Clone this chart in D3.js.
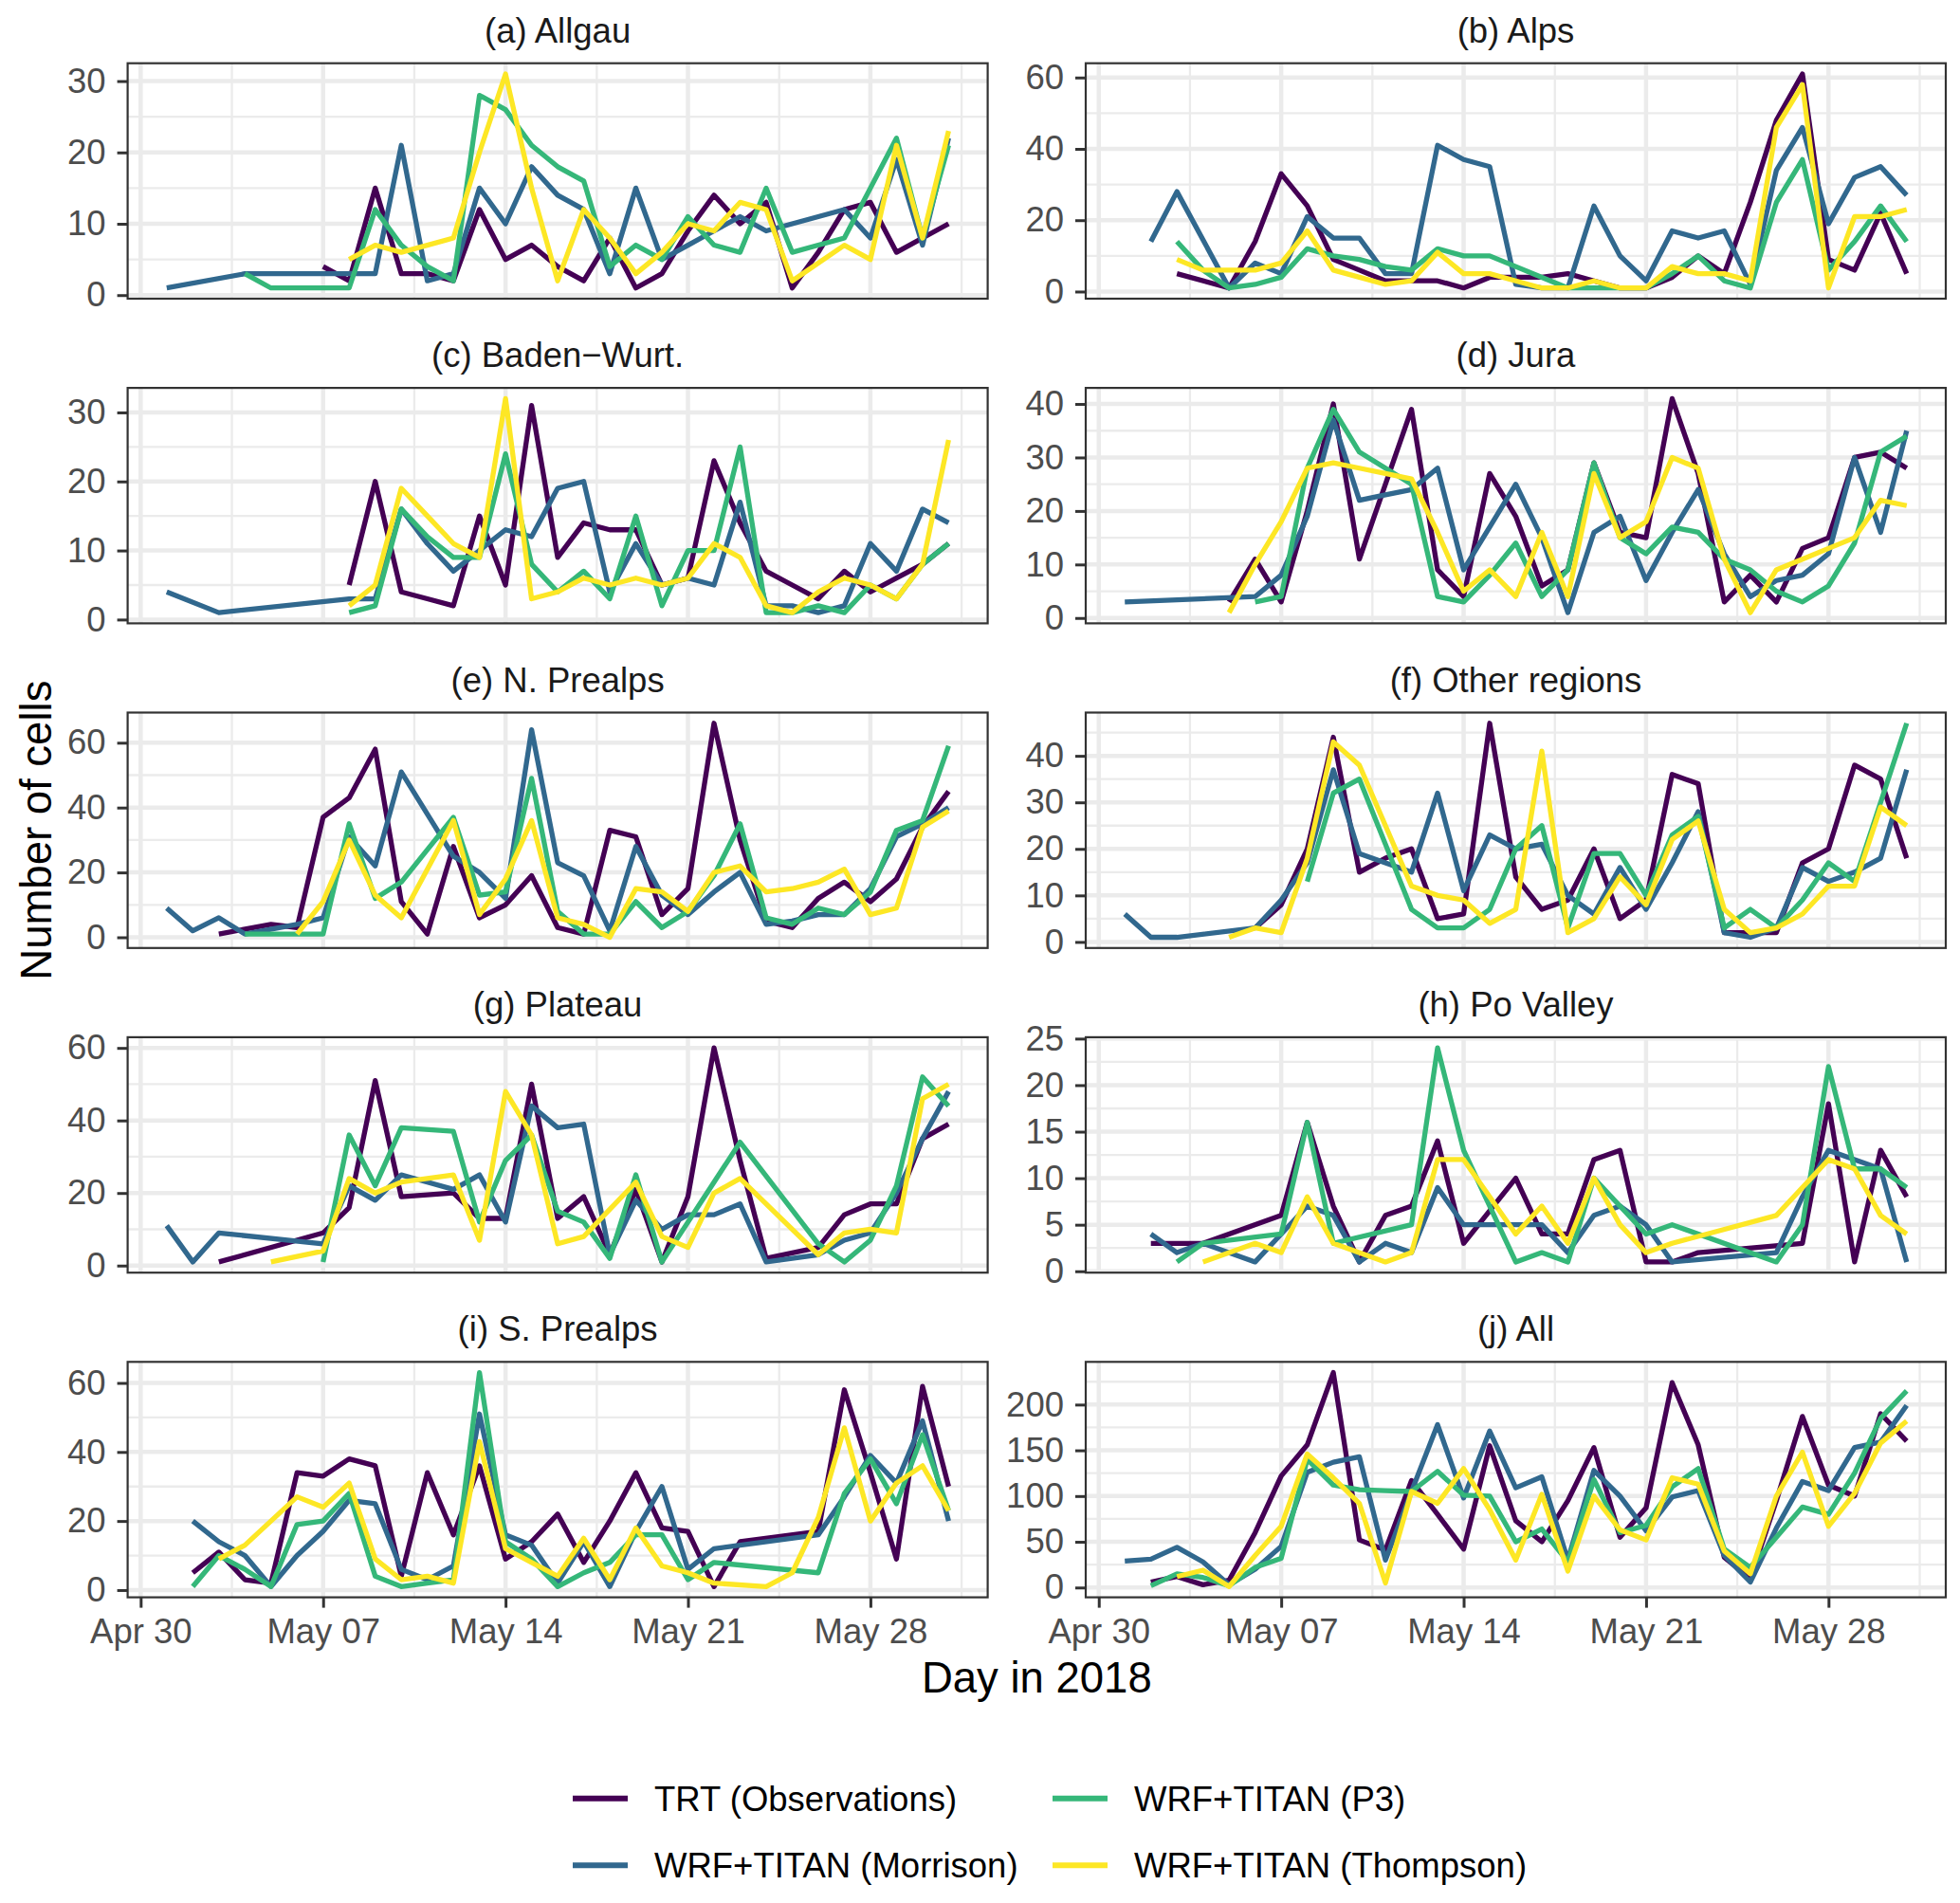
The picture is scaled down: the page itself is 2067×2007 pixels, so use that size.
<!DOCTYPE html>
<html>
<head>
<meta charset="UTF-8" />
<title>Number of cells per day, May 2018</title>
<script src="https://d3js.org/d3.v7.min.js"></script>
<style>
  body { margin: 0; background: #fff; }
  svg { display: block; font-family: "Liberation Sans", Arial, Helvetica, sans-serif; }
</style>
</head>
<body>
<svg width="2067" height="2007"></svg>
<script>
// 1. data -------------------------------------------------------------
// one value per day, May 1 .. May 31 2018 (null = no value that day)
const days = d3.range(1, 32).map(d => new Date(Date.UTC(2018, 4, d)))

const seriesNames = ["TRT (Observations)", "WRF+TITAN (Morrison)", "WRF+TITAN (P3)", "WRF+TITAN (Thompson)"]
const seriesColors = ["#440154", "#31688E", "#35B779", "#FDE725"]

const regionTitles = ["(a) Allgau", "(b) Alps", "(c) Baden\u2212Wurt.", "(d) Jura", "(e) N. Prealps",
  "(f) Other regions", "(g) Plateau", "(h) Po Valley", "(i) S. Prealps", "(j) All"]

const xTickDates = [new Date(Date.UTC(2018, 3, 30)), new Date(Date.UTC(2018, 4, 7)),
  new Date(Date.UTC(2018, 4, 14)), new Date(Date.UTC(2018, 4, 21)), new Date(Date.UTC(2018, 4, 28))]
const xTickLabels = ["Apr 30", "May 07", "May 14", "May 21", "May 28"]

const yTicks = [
  [0, 10, 20, 30], [0, 20, 40, 60], [0, 10, 20, 30], [0, 10, 20, 30, 40], [0, 20, 40, 60],
  [0, 10, 20, 30, 40], [0, 20, 40, 60], [0, 5, 10, 15, 20, 25], [0, 20, 40, 60], [0, 50, 100, 150, 200]
]

const _ = null
// (a) Allgau
const a_trt = [_,_,_,_,_,_,4,2,15,3,3,2,12,5,7,4,2,8,1,3,9,14,10,13,1,6,12,13,6,8,10]
const a_mor = [1,_,_,3,_,_,_,_,3,21,2,3,15,10,18,14,12,3,15,5,7,9,11,9,10,_,12,8,19,7,22]
const a_p3  = [_,_,_,3,1,_,_,1,12,7,4,2,28,26,21,18,16,4,7,5,11,7,6,15,6,7,8,15,22,8,21]
const a_tho = [_,_,_,_,_,_,_,5,7,6,_,8,20,31,15,2,12,8,3,6,10,9,13,12,2,_,7,5,21,8,23]
// (b) Alps
const b_trt = [_,_,5,_,1,14,33,24,9,6,3,3,3,1,4,4,4,5,3,1,1,4,10,5,25,48,61,9,6,22,5]
const b_mor = [_,14,28,_,1,8,5,21,15,15,5,5,41,37,35,2,1,1,24,10,3,17,15,17,2,34,46,19,32,35,27]
const b_p3  = [_,_,14,6,1,2,4,12,10,9,7,6,12,10,10,7,4,1,1,1,1,5,10,3,1,25,37,6,14,24,14]
const b_tho = [_,_,9,6,6,6,8,17,6,4,2,3,11,5,5,3,1,1,3,1,1,7,5,5,3,46,58,1,21,21,23]
// (c) Baden-Wurt.
const c_trt = [_,_,_,_,_,_,_,5,20,4,3,2,15,5,31,9,14,13,13,5,6,23,14,7,5,3,7,4,6,8,11]
const c_mor = [4,_,1,_,_,_,_,3,3,16,11,7,10,13,12,19,20,4,11,5,6,5,17,2,2,1,2,11,7,16,14]
const c_p3  = [_,_,_,_,_,_,_,1,2,16,12,9,9,24,8,4,7,3,15,2,10,10,25,1,1,2,1,5,3,8,11]
const c_tho = [_,_,_,_,_,_,_,2,5,19,15,11,9,32,3,4,6,5,6,5,6,11,9,2,1,4,6,5,3,8,26]
// (d) Jura
const d_trt = [_,_,_,_,3,11,3,20,40,11,25,39,9,4,27,19,6,9,29,16,15,41,27,3,8,3,13,15,30,31,28]
const d_mor = [3,_,_,_,_,4,8,19,37,22,23,24,28,9,17,25,15,1,16,19,7,16,24,12,4,7,8,12,30,16,35]
const d_p3  = [_,_,_,_,_,3,4,28,39,31,28,25,4,3,8,14,4,9,29,15,12,17,16,11,9,5,3,6,14,31,34]
const d_tho = [_,_,_,_,1,10,18,28,29,28,27,26,16,5,9,4,16,4,27,15,18,30,28,11,1,9,11,13,15,22,21]
// (e) N. Prealps
const e_trt = [_,_,1,_,4,3,37,43,58,11,1,28,6,10,19,3,1,33,31,7,15,66,30,5,3,12,17,11,18,34,45]
const e_mor = [9,2,6,1,_,4,6,31,22,51,38,25,20,12,64,23,19,2,28,13,7,14,20,4,5,7,7,15,31,35,40]
const e_p3  = [_,_,_,1,_,_,1,35,12,17,27,37,13,14,49,8,1,1,11,3,8,19,35,6,4,9,7,14,33,36,59]
const e_tho = [_,_,_,_,_,1,11,30,13,6,21,36,7,18,36,6,4,0,15,14,8,20,22,14,15,17,21,7,9,34,39]
// (f) Other regions
const f_trt = [_,_,_,_,_,3,8,20,44,15,18,20,5,6,47,14,7,9,20,5,9,36,34,2,2,2,17,20,38,35,18]
const f_mor = [6,1,1,_,_,3,9,17,37,19,17,15,32,11,23,20,21,10,6,16,7,17,28,2,1,3,16,13,15,18,37]
const f_p3  = [_,_,_,_,_,_,_,13,32,35,21,7,3,3,7,20,25,3,19,19,10,23,27,3,7,3,9,17,13,30,47]
const f_tho = [_,_,_,_,1,3,2,18,43,38,25,12,10,9,4,7,41,2,5,14,8,22,26,7,2,3,6,12,12,29,25]
// (g) Plateau
const g_trt = [_,_,1,_,_,_,9,16,51,19,_,20,13,13,50,13,19,3,21,1,19,60,29,2,_,5,14,17,17,35,39]
const g_mor = [11,1,9,_,_,_,6,22,18,25,23,21,25,12,44,38,39,3,18,10,14,14,17,1,_,3,7,9,20,35,48]
const g_p3  = [_,_,_,_,_,_,1,36,22,38,_,37,12,29,36,15,12,2,25,1,12,23,34,_,_,6,1,7,22,52,44]
const g_tho = [_,_,_,_,1,_,4,24,20,23,_,25,7,48,36,6,8,_,23,8,5,20,24,_,_,3,9,10,9,46,50]
// (h) Po Valley
const h_trt = [_,3,_,3,_,_,6,16,7,1,6,7,14,3,_,10,4,4,12,13,1,1,2,_,_,_,3,18,1,13,8]
const h_mor = [_,4,2,3,_,1,4,7,6,1,3,2,9,5,5,_,5,2,6,7,5,1,_,_,_,2,8,13,_,11,1]
const h_p3  = [_,_,1,3,_,_,4,16,3,_,_,5,24,13,_,1,2,1,10,7,4,5,_,_,_,1,5,22,11,11,9]
const h_tho = [_,_,_,1,_,3,2,8,3,_,1,2,12,12,_,4,7,3,10,5,2,3,_,_,_,6,_,12,11,6,4]
// (i) S. Prealps
const i_trt = [_,5,11,3,2,34,33,38,36,4,34,16,36,9,14,22,8,20,34,18,17,1,14,_,_,17,58,34,9,59,30]
const i_mor = [_,20,14,10,1,10,17,26,25,6,3,7,51,16,13,2,14,1,17,30,6,12,13,_,_,16,27,39,31,49,20]
const i_p3  = [_,1,10,6,1,19,20,28,4,1,2,3,63,14,9,1,5,8,16,16,3,8,_,_,_,5,28,38,25,45,23]
const i_tho = [_,_,9,13,20,27,24,31,9,3,4,2,43,12,8,4,15,3,18,7,5,2,_,1,5,21,47,20,31,36,23]
// (j) All
const j_trt = [_,6,12,3,8,60,122,156,235,52,41,117,80,42,155,73,50,95,153,55,87,224,156,33,10,95,187,112,100,190,160]
const j_mor = [29,31,44,28,3,20,45,126,137,143,30,105,178,98,171,109,121,30,128,100,62,99,106,35,6,65,116,106,153,159,199]
const j_p3  = [_,2,15,11,2,22,32,140,112,107,106,105,127,101,100,50,64,28,118,60,68,110,130,42,22,55,88,80,125,185,215]
const j_tho = [_,_,12,19,1,35,67,146,120,92,5,105,92,130,85,30,102,18,100,63,52,120,113,40,15,100,148,67,103,158,182]

const panelSeries = [
  [a_trt, a_mor, a_p3, a_tho], [b_trt, b_mor, b_p3, b_tho], [c_trt, c_mor, c_p3, c_tho],
  [d_trt, d_mor, d_p3, d_tho], [e_trt, e_mor, e_p3, e_tho], [f_trt, f_mor, f_p3, f_tho],
  [g_trt, g_mor, g_p3, g_tho], [h_trt, h_mor, h_p3, h_tho], [i_trt, i_mor, i_p3, i_tho],
  [j_trt, j_mor, j_p3, j_tho]
]

// 2. layout -----------------------------------------------------------
const svg = d3.select("svg")
svg.append("rect").attr("width", 2067).attr("height", 2007).attr("fill", "#fff")

const colX = [134.6, 1145]
const top0 = 66.7, rowStep = 342.4
const pw = 907, ph = 248.3
const dayMs = 864e5
const tickFont = 36.5, titleFont = 45.5

const x = d3.scaleUtc()
  .domain([+days[0] - 1.5 * dayMs, +days[days.length - 1] + 1.5 * dayMs])
  .range([0, pw])

// minor breaks half way between the weekly breaks
const xMinor = []
xTickDates.forEach(t => {
  xMinor.push(+t - 3.5 * dayMs, +t + 3.5 * dayMs)
})
const xMinorIn = Array.from(new Set(xMinor)).filter(t => t >= x.domain()[0] && t <= x.domain()[1])

const line = d3.line()
  .x(d => x(d.date))
  .y(d => d.y)

// 3. panels -----------------------------------------------------------
panelSeries.forEach((series, p) => {
  const col = p % 2, row = Math.floor(p / 2)
  const g = svg.append("g")
    .attr("transform", "translate(" + colX[col] + "," + (top0 + row * rowStep) + ")")

  const allVals = series.flat().filter(v => v != null)
  const [lo, hi] = d3.extent(allVals)
  const pad = (hi - lo) * 0.05
  const y = d3.scaleLinear().domain([lo - pad, hi + pad]).range([ph, 0])

  const ticks = yTicks[p]
  const step = ticks[1] - ticks[0]
  const yMinor = d3.range(ticks[0] - step / 2, y.domain()[1], step)
    .filter(v => v >= y.domain()[0] && v <= y.domain()[1])

  // grid: minor then major
  g.selectAll(".ymin").data(yMinor).enter().append("line")
    .attr("x1", 0).attr("x2", pw).attr("y1", d => y(d)).attr("y2", d => y(d))
    .attr("stroke", "#ebebeb").attr("stroke-width", 2.3)
  g.selectAll(".xmin").data(xMinorIn).enter().append("line")
    .attr("x1", d => x(d)).attr("x2", d => x(d)).attr("y1", 0).attr("y2", ph)
    .attr("stroke", "#ebebeb").attr("stroke-width", 2.3)
  g.selectAll(".ymaj").data(ticks).enter().append("line")
    .attr("x1", 0).attr("x2", pw).attr("y1", d => y(d)).attr("y2", d => y(d))
    .attr("stroke", "#ebebeb").attr("stroke-width", 4.5)
  g.selectAll(".xmaj").data(xTickDates).enter().append("line")
    .attr("x1", d => x(d)).attr("x2", d => x(d)).attr("y1", 0).attr("y2", ph)
    .attr("stroke", "#ebebeb").attr("stroke-width", 4.5)

  // lines, TRT first so Thompson ends on top
  series.forEach((vals, s) => {
    const pts = vals.map((v, i) => ({ date: days[i], v: v }))
      .filter(d => d.v != null)
      .map(d => ({ date: d.date, y: y(d.v) }))
    g.append("path")
      .attr("d", line(pts))
      .attr("fill", "none")
      .attr("stroke", seriesColors[s])
      .attr("stroke-width", 5.3)
      .attr("stroke-linejoin", "round")
  })

  // panel border
  g.append("rect")
    .attr("width", pw).attr("height", ph)
    .attr("fill", "none").attr("stroke", "#333333").attr("stroke-width", 2.2)

  // y axis
  const yAxis = d3.axisLeft(y).tickValues(ticks).tickSize(11).tickPadding(12)
  const ya = g.append("g").call(yAxis)
  ya.select(".domain").remove()
  ya.selectAll(".tick line").attr("stroke", "#333333").attr("stroke-width", 3)
  ya.selectAll(".tick text")
    .attr("fill", "#4d4d4d").attr("font-size", tickFont)
    .attr("font-family", "Liberation Sans, Arial, sans-serif")

  // x axis only under the bottom row
  if (row === 4) {
    const xAxis = d3.axisBottom(x).tickValues(xTickDates).tickSize(11).tickPadding(11)
      .tickFormat((d, i) => xTickLabels[i])
    const xa = g.append("g").attr("transform", "translate(0," + ph + ")").call(xAxis)
    xa.select(".domain").remove()
    xa.selectAll(".tick line").attr("stroke", "#333333").attr("stroke-width", 3)
    xa.selectAll(".tick text")
      .attr("fill", "#4d4d4d").attr("font-size", tickFont)
      .attr("font-family", "Liberation Sans, Arial, sans-serif")
  }

  // strip title
  g.append("text")
    .attr("x", pw / 2).attr("y", -22)
    .attr("text-anchor", "middle")
    .attr("font-size", tickFont)
    .attr("fill", "#1a1a1a")
    .text(regionTitles[p])
})

// 4. axis titles ------------------------------------------------------
svg.append("text")
  .attr("x", (colX[0] + colX[1] + pw) / 2).attr("y", 1785)
  .attr("text-anchor", "middle").attr("font-size", titleFont).attr("fill", "#000")
  .text("Day in 2018")

svg.append("text")
  .attr("transform", "translate(54," + (top0 + (4 * rowStep + ph) / 2) + ") rotate(-90)")
  .attr("text-anchor", "middle").attr("font-size", titleFont).attr("fill", "#000")
  .text("Number of cells")

// 5. legend -----------------------------------------------------------
const legendCols = [604, 1110]
const legendRows = [1896.7, 1967.3]
const lg = svg.append("g")
seriesNames.forEach((name, s) => {
  const cx = legendCols[Math.floor(s / 2)], cy = legendRows[s % 2]
  lg.append("line")
    .attr("x1", cx).attr("x2", cx + 58).attr("y1", cy).attr("y2", cy)
    .attr("stroke", seriesColors[s]).attr("stroke-width", 6)
  lg.append("text")
    .attr("x", cx + 86).attr("y", cy + 13)
    .attr("font-size", tickFont).attr("fill", "#000")
    .text(name)
})
</script>
</body>
</html>
